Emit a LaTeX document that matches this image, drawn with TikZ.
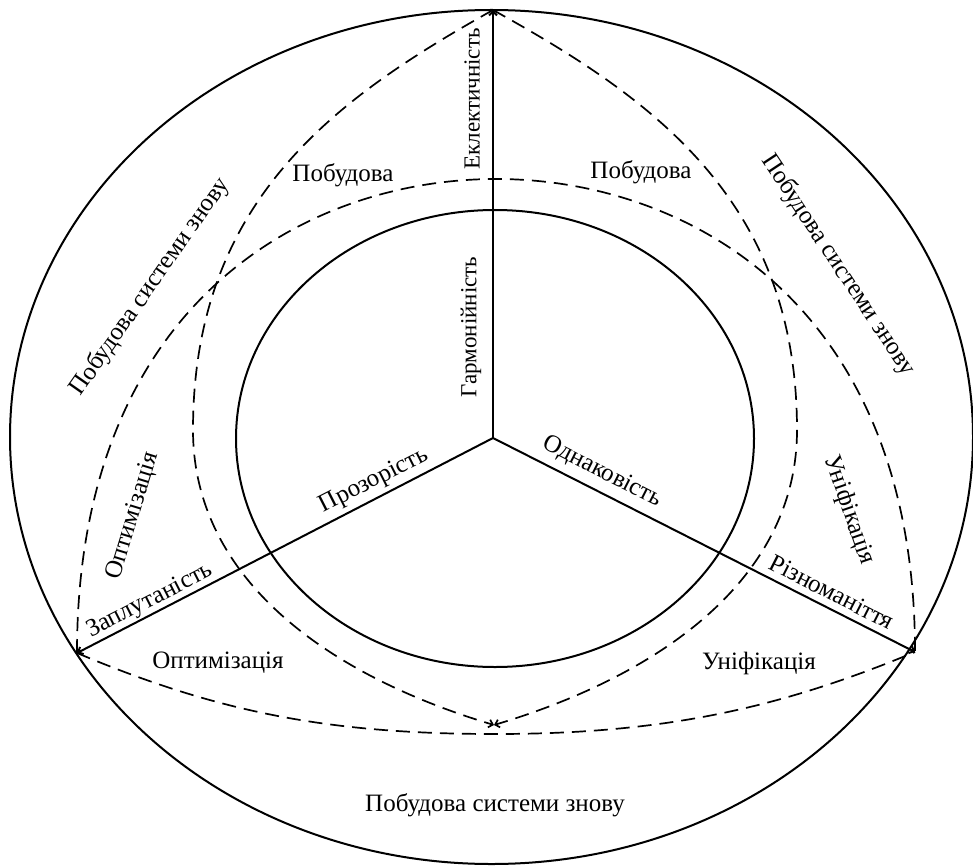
\documentclass[tikz,border=0pt]{standalone}
\usepackage{fontspec}
\setmainfont{Liberation Serif}
\usetikzlibrary{arrows.meta}

\begin{document}
\begin{tikzpicture}[line width=1pt, x=0.5pt, y=-0.5pt,
  spoke/.style={-{Straight Barb[length=2pt,width=4pt]}},
  arcline/.style={line width=0.85pt, dash pattern=on 7pt off 4pt},
  lbl/.style={font=\fontsize{12.5}{15}\selectfont, inner sep=1pt},
  vlbl/.style={font=\fontsize{11.5}{14}\selectfont, inner sep=1pt, rotate=90}]
\useasboundingbox (0,0) rectangle (973,866);
% ellipses
\draw (491.5,437) ellipse [x radius=481.5, y radius=427];
\draw (495,438.5) ellipse [x radius=259, y radius=228.5];
% spokes
\coordinate (O) at (493,438);
\coordinate (T) at (493,10);
\coordinate (L) at (77,653);
\coordinate (R) at (915,652);
\coordinate (B) at (494,725);
\draw[spoke] (O) -- (T);
\draw[spoke] (O) -- (L);
\draw[spoke] (O) -- (R);
% dashed arcs
\draw[arcline,-{Straight Barb[length=2pt,width=4pt]}] (T) .. controls (336,98) and (193,200) .. (193,430)
  .. controls (193,580) and (330,676) .. (B);
\draw[arcline,-{Straight Barb[length=2pt,width=4pt]}] (T) .. controls (652,98) and (797,200) .. (797,430)
  .. controls (797,580) and (658,676) .. (B);
\draw[arcline] (L) .. controls (77,303) and (306,179) .. (496,179)
  .. controls (686,179) and (915,303) .. (R);
\draw[arcline] (L) .. controls (215,711) and (325,734) .. (495,734)
  .. controls (665,734) and (780,708) .. (R);
% labels
\node[vlbl] (eklekt) at (472,99) {Еклектичність};
\node[vlbl] (harmon) at (471,327) {Гармонійність};
\node[lbl] (build1) at (343,175) {Побудова};
\node[lbl] (build2) at (641,172) {Побудова};
\node[lbl, rotate=55] (again1) at (150,287) {Побудова системи знову};
\node[lbl, rotate=-56.5] (again2) at (838,265) {Побудова системи знову};
\node[lbl, rotate=73] (optim1) at (133,516) {Оптимізація};
\node[lbl, rotate=-71] (unif1) at (849,510) {Уніфікація};
\node[lbl, rotate=27] (transp) at (374,481) {Прозорість};
\node[lbl, rotate=27] (tangle) at (150,601) {Заплутаність};
\node[lbl, rotate=-27] (same) at (602,472) {Однаковість};
\node[lbl, rotate=-27] (diverse) at (832,592) {Різноманіття};
\node[lbl] (optim2) at (218,663) {Оптимізація};
\node[lbl] (unif2) at (759,663) {Уніфікація};
\node[lbl] (again3) at (495,805) {Побудова системи знову};
\end{tikzpicture}
\end{document}
